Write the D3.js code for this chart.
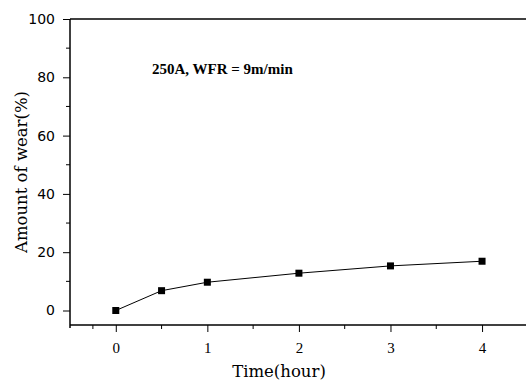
<!DOCTYPE html>
<html>
<head>
<meta charset="utf-8">
<script src="https://cdn.jsdelivr.net/npm/d3@7"></script>
<style>
  body { margin: 0; background: #fff; }
  svg { display: block; }
</style>
</head>
<body>
<svg></svg>
<script>
// wear vs time, 250A / WFR 9 m/min
var hours = [0, 0.5, 1, 2, 3, 4];
var wear = [0, 6.8, 9.7, 12.8, 15.3, 16.9];
var xTicks = [0, 1, 2, 3, 4];
var yTicks = [0, 20, 40, 60, 80, 100];

var width = 526, height = 385;
var plotLeft = 70, plotRight = 526, plotTop = 19, plotBottom = 325;

var svg = d3.select("svg").attr("width", width).attr("height", height);

var x = d3.scaleLinear().domain([-0.5, 4.48]).range([plotLeft, plotRight]);
var y = d3.scaleLinear().domain([0, 100]).range([310.5, plotTop]);

// frame: top line
svg.append("line")
  .attr("x1", plotLeft).attr("x2", plotRight)
  .attr("y1", plotTop).attr("y2", plotTop)
  .attr("stroke", "#000").attr("stroke-width", 1.5);

// y axis
var yAxis = svg.append("g")
  .attr("transform", "translate(" + plotLeft + ",0)")
  .call(d3.axisLeft(y).tickValues(yTicks).tickSize(7).tickPadding(8).tickSizeOuter(0));
yAxis.select(".domain").remove();
yAxis.append("line")
  .attr("x1", 0).attr("x2", 0).attr("y1", plotTop).attr("y2", plotBottom + 3)
  .attr("stroke", "#000").attr("stroke-width", 1.5);
yAxis.selectAll(".minor").data([10, 30, 50, 70, 90]).enter().append("line")
  .attr("x1", -4).attr("x2", 0)
  .attr("y1", function(d) { return y(d); }).attr("y2", function(d) { return y(d); })
  .attr("stroke", "#000");

// x axis
var xAxis = svg.append("g")
  .attr("transform", "translate(0," + plotBottom + ")")
  .call(d3.axisBottom(x).tickValues(xTicks).tickFormat(d3.format("d"))
    .tickSize(7).tickPadding(10).tickSizeOuter(0));
xAxis.select(".domain").remove();
xAxis.append("line")
  .attr("x1", plotLeft).attr("x2", plotRight).attr("y1", 0).attr("y2", 0)
  .attr("stroke", "#000").attr("stroke-width", 1.5);
xAxis.selectAll(".minor").data([-0.25, 0.5, 1.5, 2.5, 3.5]).enter().append("line")
  .attr("x1", function(d) { return x(d); }).attr("x2", function(d) { return x(d); })
  .attr("y1", 0).attr("y2", 4)
  .attr("stroke", "#000");

svg.selectAll(".tick text")
  .attr("font-family", "DejaVu Sans")
  .attr("font-size", 14)
  .attr("fill", "#000");
xAxis.selectAll(".tick text").attr("font-family", "Liberation Serif").attr("font-size", 15);

// data line
svg.append("path")
  .datum(hours.map(function(h, i) { return [h, wear[i]]; }))
  .attr("fill", "none")
  .attr("stroke", "#000")
  .attr("stroke-width", 1)
  .attr("d", d3.line()
    .x(function(d) { return x(d[0]); })
    .y(function(d) { return y(d[1]); }));

svg.selectAll(".pt").data(hours).enter().append("rect")
  .attr("x", function(d) { return x(d) - 3.5; })
  .attr("y", function(d, i) { return y(wear[i]) - 3.5; })
  .attr("width", 7).attr("height", 7)
  .attr("fill", "#000");

// labels
svg.append("text")
  .attr("x", 152).attr("y", 74)
  .attr("font-family", "Liberation Serif")
  .attr("font-weight", "bold")
  .attr("font-size", 15)
  .text("250A, WFR = 9m/min");

svg.append("text")
  .attr("transform", "translate(27,172) rotate(-90)")
  .attr("text-anchor", "middle")
  .attr("font-family", "DejaVu Serif")
  .attr("font-size", 16.5)
  .text("Amount of wear(%)");

svg.append("text")
  .attr("x", 279).attr("y", 377)
  .attr("text-anchor", "middle")
  .attr("font-family", "DejaVu Serif")
  .attr("font-size", 16.5)
  .text("Time(hour)");
</script>
</body>
</html>
